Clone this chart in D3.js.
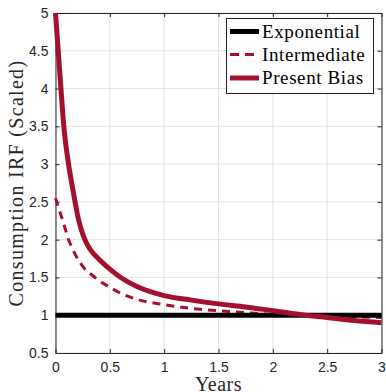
<!DOCTYPE html>
<html>
<head>
<meta charset="utf-8">
<script src="https://cdn.jsdelivr.net/npm/d3@7"></script>
<style>
  body { margin: 0; background: #fff; }
</style>
</head>
<body>
<div id="chart"></div>
<script>
var years = [0, 0.04, 0.08, 0.12, 0.15, 0.18, 0.21, 0.24, 0.27, 0.32, 0.4, 0.5, 0.6, 0.75, 1, 1.25, 1.5, 1.75, 2, 2.25, 2.5, 2.75, 3];
var presentBias = [5.0, 4.2, 3.45, 3.0, 2.74, 2.5, 2.28, 2.12, 2.0, 1.87, 1.74, 1.61, 1.5, 1.38, 1.26, 1.2, 1.15, 1.11, 1.06, 1.01, 0.97, 0.93, 0.9];
var intermediate = [2.55, 2.37, 2.19, 2.0, 1.9, 1.81, 1.73, 1.67, 1.61, 1.55, 1.46, 1.37, 1.29, 1.21, 1.14, 1.09, 1.06, 1.035, 1.01, 1.0, 0.99, 0.98, 0.97];
var exponential = [1, 1, 1, 1, 1, 1, 1, 1, 1, 1, 1, 1, 1, 1, 1, 1, 1, 1, 1, 1, 1, 1, 1];
var xTicks = [0, 0.5, 1, 1.5, 2, 2.5, 3];
var yTicks = [0.5, 1, 1.5, 2, 2.5, 3, 3.5, 4, 4.5, 5];
var seriesNames = ["Exponential", "Intermediate", "Present Bias"];

var margin = { top: 13, right: 4.5, bottom: 39, left: 55.5 },
  width = 386 - margin.left - margin.right,
  height = 392 - margin.top - margin.bottom;

var red = "#a3112f";
var serif = "Liberation Serif, Times New Roman, serif";

var svg = d3.select("#chart")
  .append("svg")
  .attr("width", 386)
  .attr("height", 392)
  .append("g")
  .attr("transform", "translate(" + margin.left + "," + margin.top + ")");

var x = d3.scaleLinear().domain([0, 3]).range([0, width]);
var y = d3.scaleLinear().domain([0.5, 5]).range([height, 0]);

// grid
svg.append("g").selectAll("line").data(xTicks).enter().append("line")
  .attr("x1", function (d) { return x(d); }).attr("x2", function (d) { return x(d); })
  .attr("y1", 0).attr("y2", height)
  .attr("stroke", "#e3e3e3").attr("stroke-width", 1);
svg.append("g").selectAll("line").data(yTicks).enter().append("line")
  .attr("y1", function (d) { return y(d); }).attr("y2", function (d) { return y(d); })
  .attr("x1", 0).attr("x2", width)
  .attr("stroke", "#e3e3e3").attr("stroke-width", 1);

// axes (ticks inside, box on)
var axisColor = "#262626";
function styleAxis(g, hideText) {
  g.select(".domain").attr("stroke", axisColor).attr("stroke-width", 1);
  g.selectAll(".tick line").attr("stroke", axisColor);
  g.selectAll("text").attr("fill", axisColor).style("font-family", "Liberation Sans, Arial, sans-serif").style("font-size", "14px");
  if (hideText) g.selectAll("text").remove();
}
svg.append("g").attr("transform", "translate(0," + height + ")")
  .call(d3.axisBottom(x).tickValues(xTicks).tickSizeInner(-4).tickSizeOuter(0).tickPadding(9).tickFormat(d3.format("")))
  .call(function (g) { styleAxis(g, false); });
svg.append("g")
  .call(d3.axisLeft(y).tickValues(yTicks).tickSizeInner(-4).tickSizeOuter(0).tickPadding(7).tickFormat(d3.format("")))
  .call(function (g) { styleAxis(g, false); });
svg.append("g")
  .call(d3.axisTop(x).tickValues(xTicks).tickSizeInner(-4).tickSizeOuter(0))
  .call(function (g) { styleAxis(g, true); });
svg.append("g").attr("transform", "translate(" + width + ",0)")
  .call(d3.axisRight(y).tickValues(yTicks).tickSizeInner(-4).tickSizeOuter(0))
  .call(function (g) { styleAxis(g, true); });

// lines
var line = d3.line()
  .x(function (d) { return x(d[0]); })
  .y(function (d) { return y(d[1]); })
  .curve(d3.curveMonotoneX);

var plot = svg.append("g");
plot.append("path")
  .datum(d3.zip(years, intermediate))
  .attr("d", line).attr("fill", "none")
  .attr("stroke", red).attr("stroke-width", 3)
  .attr("stroke-dasharray", "8,6");
plot.append("path")
  .datum(d3.zip(years, exponential))
  .attr("d", line).attr("fill", "none")
  .attr("stroke", "#000").attr("stroke-width", 5);
plot.append("path")
  .datum(d3.zip(years, presentBias))
  .attr("d", line).attr("fill", "none")
  .attr("stroke", red).attr("stroke-width", 5);

// labels
svg.append("text")
  .attr("x", width / 2).attr("y", height + 38)
  .attr("text-anchor", "middle")
  .style("font-family", serif)
  .style("font-size", "20px")
  .style("letter-spacing", "0.5px")
  .attr("fill", axisColor)
  .text("Years");

svg.append("text")
  .attr("transform", "rotate(-90)")
  .attr("x", -height / 2).attr("y", -33)
  .attr("text-anchor", "middle")
  .style("font-family", serif)
  .style("font-size", "20px")
  .style("letter-spacing", "1.3px")
  .attr("fill", axisColor)
  .text("Consumption IRF (Scaled)");

// legend
var legend = d3.select("svg").append("g");
legend.append("rect")
  .attr("x", 226.5).attr("y", 18.5).attr("width", 147).attr("height", 75)
  .attr("fill", "#fff").attr("stroke", "#262626").attr("stroke-width", 1);
var legendStyles = [
  { color: "#000", width: 5, dash: null },
  { color: red, width: 3, dash: "9,6" },
  { color: red, width: 5, dash: null }
];
var rowY = [31.5, 54.5, 78];
seriesNames.forEach(function (name, i) {
  legend.append("line")
    .attr("x1", 230).attr("x2", 259)
    .attr("y1", rowY[i]).attr("y2", rowY[i])
    .attr("stroke", legendStyles[i].color)
    .attr("stroke-width", legendStyles[i].width)
    .attr("stroke-dasharray", legendStyles[i].dash);
  legend.append("text")
    .attr("x", 262).attr("y", rowY[i] + 6)
    .style("font-family", serif)
    .style("font-size", "19px")
    .style("letter-spacing", "0.6px")
    .attr("fill", "#000")
    .text(name);
});
</script>
</body>
</html>
